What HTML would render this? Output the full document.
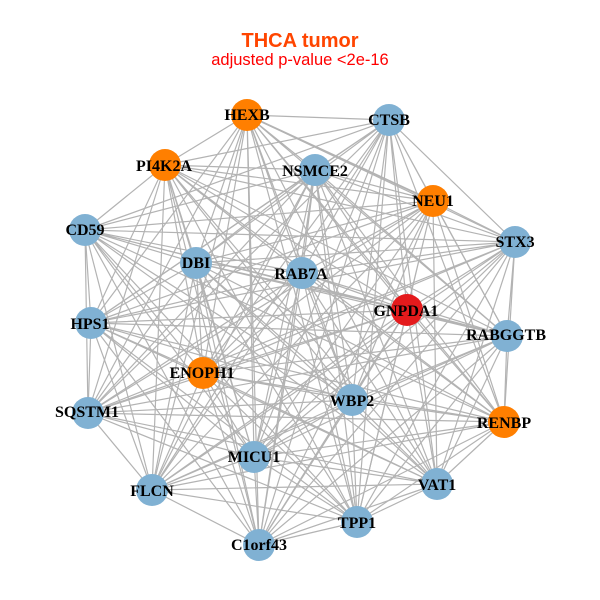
<!DOCTYPE html>
<html><head><meta charset="utf-8"><style>
html,body{margin:0;padding:0;background:#fff}
svg{display:block}
.t{font-family:"Liberation Serif",serif;font-weight:bold;font-size:16px;text-anchor:middle;fill:#000}
</style></head><body>
<svg width="600" height="600" viewBox="0 0 600 600" xmlns="http://www.w3.org/2000/svg">
<rect width="600" height="600" fill="#fff"/>
<g fill="none" stroke="#b3b3b3" stroke-width="1.2" stroke-linejoin="round">
<path d="M247 115 389 120 247 115 165 165 247 115 315 170 247 115 515 242 247 115 196 263 247 115 302 273 247 115 407 310 247 115 91 323 247 115 507 336 247 115 203 373 247 115 352 400 247 115 88 413 247 115 504 422 247 115 254 457 247 115 437 484 247 115 152 490 247 115 357 522 247 115 259 545"/>
<path d="M247 115 433 201" stroke-width="1.8"/>
<path d="M407 310 507 336" stroke-width="1.8"/>
<path d="M389 120 165 165 389 120 315 170 389 120 433 201 389 120 85 230 389 120 515 242 389 120 196 263 389 120 302 273 389 120 407 310 389 120 91 323 389 120 507 336 389 120 203 373 389 120 352 400 389 120 88 413 389 120 504 422 389 120 254 457 389 120 437 484 389 120 152 490 389 120 357 522 389 120 259 545"/>
<path d="M165 165 315 170 165 165 433 201 165 165 85 230 165 165 515 242 165 165 196 263 165 165 302 273 165 165 407 310 165 165 91 323 165 165 507 336 165 165 203 373 165 165 352 400 165 165 88 413 165 165 504 422 165 165 254 457 165 165 437 484 165 165 152 490 165 165 357 522 165 165 259 545"/>
<path d="M315 170 433 201 315 170 85 230 315 170 515 242 315 170 196 263 315 170 302 273 315 170 407 310 315 170 91 323 315 170 507 336 315 170 203 373 315 170 352 400 315 170 88 413 315 170 504 422 315 170 254 457 315 170 437 484 315 170 152 490 315 170 357 522 315 170 259 545"/>
<path d="M433 201 85 230 433 201 515 242 433 201 196 263 433 201 302 273 433 201 407 310 433 201 91 323 433 201 507 336 433 201 203 373 433 201 352 400 433 201 88 413 433 201 504 422 433 201 254 457 433 201 437 484 433 201 152 490 433 201 357 522 433 201 259 545"/>
<path d="M85 230 515 242 85 230 196 263 85 230 302 273 85 230 407 310 85 230 91 323 85 230 507 336 85 230 203 373 85 230 352 400 85 230 88 413 85 230 504 422 85 230 254 457 85 230 437 484 85 230 152 490 85 230 357 522 85 230 259 545"/>
<path d="M515 242 196 263 515 242 302 273 515 242 407 310 515 242 91 323 515 242 507 336 515 242 203 373 515 242 352 400 515 242 88 413 515 242 504 422 515 242 254 457 515 242 437 484 515 242 152 490 515 242 357 522 515 242 259 545"/>
<path d="M196 263 302 273 196 263 407 310 196 263 91 323 196 263 507 336 196 263 203 373 196 263 352 400 196 263 88 413 196 263 504 422 196 263 254 457 196 263 437 484 196 263 152 490 196 263 357 522 196 263 259 545"/>
<path d="M302 273 407 310 302 273 91 323 302 273 507 336 302 273 203 373 302 273 352 400 302 273 88 413 302 273 504 422 302 273 254 457 302 273 437 484 302 273 152 490 302 273 357 522 302 273 259 545"/>
<path d="M407 310 91 323 407 310 203 373 407 310 352 400 407 310 88 413 407 310 504 422 407 310 254 457 407 310 437 484 407 310 152 490 407 310 357 522 407 310 259 545"/>
<path d="M91 323 507 336 91 323 203 373 91 323 352 400 91 323 88 413 91 323 504 422 91 323 254 457 91 323 437 484 91 323 152 490 91 323 357 522 91 323 259 545"/>
<path d="M507 336 203 373 507 336 352 400 507 336 88 413 507 336 504 422 507 336 254 457 507 336 437 484 507 336 152 490 507 336 357 522 507 336 259 545"/>
<path d="M203 373 352 400 203 373 88 413 203 373 504 422 203 373 254 457 203 373 437 484 203 373 152 490 203 373 357 522 203 373 259 545"/>
<path d="M352 400 88 413 352 400 504 422 352 400 254 457 352 400 437 484 352 400 152 490 352 400 357 522 352 400 259 545"/>
<path d="M88 413 504 422 88 413 254 457 88 413 437 484 88 413 152 490 88 413 357 522"/>
<path d="M504 422 254 457 504 422 437 484 504 422 152 490 504 422 357 522 504 422 259 545"/>
<path d="M254 457 437 484 254 457 152 490 254 457 357 522 254 457 259 545"/>
<path d="M437 484 152 490 437 484 357 522 437 484 259 545"/>
<path d="M152 490 357 522 152 490 259 545"/>
<path d="M357 522 259 545"/>
</g>
<g>
<circle cx="247" cy="115" r="16" fill="#ff7f00"/>
<circle cx="389" cy="120" r="16" fill="#80b1d3"/>
<circle cx="165" cy="165" r="16" fill="#ff7f00"/>
<circle cx="315" cy="170" r="16" fill="#80b1d3"/>
<circle cx="433" cy="201" r="16" fill="#ff7f00"/>
<circle cx="85" cy="230" r="16" fill="#80b1d3"/>
<circle cx="515" cy="242" r="16" fill="#80b1d3"/>
<circle cx="196" cy="263" r="16" fill="#80b1d3"/>
<circle cx="302" cy="273" r="16" fill="#80b1d3"/>
<circle cx="407" cy="310" r="16" fill="#e41a1c"/>
<circle cx="91" cy="323" r="16" fill="#80b1d3"/>
<circle cx="507" cy="336" r="16" fill="#80b1d3"/>
<circle cx="203" cy="373" r="16" fill="#ff7f00"/>
<circle cx="352" cy="400" r="16" fill="#80b1d3"/>
<circle cx="88" cy="413" r="16" fill="#80b1d3"/>
<circle cx="504" cy="422" r="16" fill="#ff7f00"/>
<circle cx="254" cy="457" r="16" fill="#80b1d3"/>
<circle cx="437" cy="484" r="16" fill="#80b1d3"/>
<circle cx="152" cy="490" r="16" fill="#80b1d3"/>
<circle cx="357" cy="522" r="16" fill="#80b1d3"/>
<circle cx="259" cy="545" r="16" fill="#80b1d3"/>
</g>
<g class="t">
<text class="t" x="247" y="120">HEXB</text>
<text class="t" x="389" y="125">CTSB</text>
<text class="t" x="164" y="171">PI4K2A</text>
<text class="t" x="315" y="176">NSMCE2</text>
<text class="t" x="433" y="206">NEU1</text>
<text class="t" x="85" y="235">CD59</text>
<text class="t" x="515" y="247">STX3</text>
<text class="t" x="196" y="268">DBI</text>
<text class="t" x="301" y="279">RAB7A</text>
<text class="t" x="406" y="316">GNPDA1</text>
<text class="t" x="90" y="329">HPS1</text>
<text class="t" x="506" y="340">RABGGTB</text>
<text class="t" x="202" y="378">ENOPH1</text>
<text class="t" x="352" y="406">WBP2</text>
<text class="t" x="87" y="417">SQSTM1</text>
<text class="t" x="504" y="428">RENBP</text>
<text class="t" x="254" y="462">MICU1</text>
<text class="t" x="437" y="490">VAT1</text>
<text class="t" x="152" y="496">FLCN</text>
<text class="t" x="357" y="528">TPP1</text>
<text class="t" x="259" y="550">C1orf43</text>
</g>
<text x="300" y="47" text-anchor="middle" font-family="'Liberation Sans',sans-serif" font-weight="bold" font-size="20" fill="#ff4500">THCA tumor</text>
<text x="300" y="65" text-anchor="middle" font-family="'Liberation Sans',sans-serif" font-size="16.5" fill="#ff0000">adjusted p-value &lt;2e-16</text>
</svg>
</body></html>
